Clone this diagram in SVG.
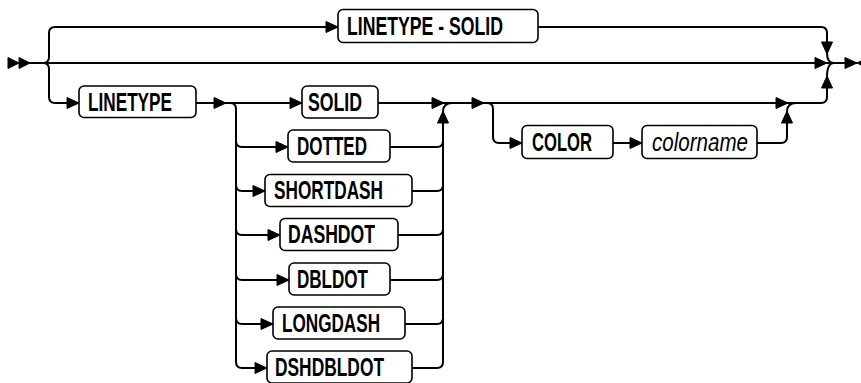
<svg xmlns="http://www.w3.org/2000/svg" width="861" height="383" viewBox="0 0 861 383">
<defs>
<style>
.ln{fill:none;stroke:#000;stroke-width:2}
.bx{fill:#fff;stroke:#000;stroke-width:1.6}
.ah{fill:#000;stroke:#000;stroke-width:1;stroke-linejoin:miter}
.t{font-family:"Liberation Sans Narrow","Arial Narrow","Liberation Sans",sans-serif;font-weight:bold;font-size:25px;fill:#000}
.ti{font-family:"Liberation Sans Narrow","Arial Narrow","Liberation Sans",sans-serif;font-style:italic;font-size:25px;fill:#000}
</style>
<marker id="ar" viewBox="0 0 13 12" refX="12.5" refY="6" markerWidth="13" markerHeight="12" markerUnits="userSpaceOnUse" orient="auto" overflow="visible"><path d="M0.5,0.5L12.5,6L0.5,11.5z" fill="#000" stroke="#000" stroke-width="1"/></marker>
</defs>
<g id="connectors">
<path class="ah" d="M8,57.5L19,63L8,68.5z M19,57.5L30,63L19,68.5z"/>
<path class="ln" d="M29,63H827" marker-end="url(#ar)"/>
<path class="ln" d="M43,63Q49,63 49,57V33Q49,27 55,27H338" marker-end="url(#ar)"/>
<path class="ln" d="M538,27H821Q827,27 827,33V54" marker-end="url(#ar)"/>
<path class="ln" d="M827,53Q827,63 834,63"/>
<path class="ln" d="M43,63Q49,63 49,69V97Q49,103 55,103H79" marker-end="url(#ar)"/>
<path class="ln" d="M196,103H226" marker-end="url(#ar)"/>
<path class="ln" d="M225,103H302" marker-end="url(#ar)"/>
<path class="ln" d="M225,103H230Q236,103 236,109V362Q236,368 242,368"/>
<path class="ln" d="M236,141Q236,147 242,147H288" marker-end="url(#ar)"/>
<path class="ln" d="M236,185Q236,191 242,191H265" marker-end="url(#ar)"/>
<path class="ln" d="M236,229Q236,235 242,235H280" marker-end="url(#ar)"/>
<path class="ln" d="M236,274Q236,280 242,280H289" marker-end="url(#ar)"/>
<path class="ln" d="M236,318Q236,324 242,324H273" marker-end="url(#ar)"/>
<path class="ln" d="M242,368H267" marker-end="url(#ar)"/>
<path class="ln" d="M378,103H444" marker-end="url(#ar)"/>
<path class="ln" d="M412,368H437Q443,368 443,362V111" marker-end="url(#ar)"/>
<path class="ln" d="M390,147H437Q443,147 443,141"/>
<path class="ln" d="M412,191H437Q443,191 443,185"/>
<path class="ln" d="M398,235H437Q443,235 443,229"/>
<path class="ln" d="M390,280H437Q443,280 443,274"/>
<path class="ln" d="M405,324H437Q443,324 443,318"/>
<path class="ln" d="M443,112Q443,103 452,103"/>
<path class="ln" d="M443,103H484" marker-end="url(#ar)"/>
<path class="ln" d="M483,103H788" marker-end="url(#ar)"/>
<path class="ln" d="M487,103Q493,103 493,109V137Q493,143 499,143H522" marker-end="url(#ar)"/>
<path class="ln" d="M613,143H642" marker-end="url(#ar)"/>
<path class="ln" d="M757,143H781Q787,143 787,137V111" marker-end="url(#ar)"/>
<path class="ln" d="M787,112Q787,103 796,103"/>
<path class="ln" d="M787,103H821Q827,103 827,97V76" marker-end="url(#ar)"/>
<path class="ln" d="M827,77Q827,63 834,63"/>
<path class="ln" d="M827,63H857" marker-end="url(#ar)"/>
<path class="ah" d="M857,63L868,57.5L868,68.5z"/>
</g>
<g id="n_linetype_solid"><rect class="bx" x="338" y="9.5" width="200" height="33" rx="5"/><text class="t" x="347" y="34.5" textLength="156" lengthAdjust="spacingAndGlyphs">LINETYPE - SOLID</text></g>
<g id="n_linetype"><rect class="bx" x="79" y="86" width="117" height="31.5" rx="5"/><text class="t" x="88" y="110.5" textLength="84" lengthAdjust="spacingAndGlyphs">LINETYPE</text></g>
<g id="n_solid"><rect class="bx" x="302" y="86" width="76" height="32" rx="5"/><text class="t" x="308" y="110.5" textLength="54" lengthAdjust="spacingAndGlyphs">SOLID</text></g>
<g id="n_dotted"><rect class="bx" x="288" y="130" width="102" height="32" rx="5"/><text class="t" x="297" y="154.5" textLength="70" lengthAdjust="spacingAndGlyphs">DOTTED</text></g>
<g id="n_shortdash"><rect class="bx" x="265" y="174.5" width="147" height="32" rx="5"/><text class="t" x="274" y="198.5" textLength="109" lengthAdjust="spacingAndGlyphs">SHORTDASH</text></g>
<g id="n_dashdot"><rect class="bx" x="280" y="218.5" width="118" height="32" rx="5"/><text class="t" x="288" y="242.5" textLength="87" lengthAdjust="spacingAndGlyphs">DASHDOT</text></g>
<g id="n_dbldot"><rect class="bx" x="289" y="263" width="101" height="32" rx="5"/><text class="t" x="297" y="287.5" textLength="71" lengthAdjust="spacingAndGlyphs">DBLDOT</text></g>
<g id="n_longdash"><rect class="bx" x="273" y="307" width="132" height="32" rx="5"/><text class="t" x="282" y="331.5" textLength="98" lengthAdjust="spacingAndGlyphs">LONGDASH</text></g>
<g id="n_dshdbldot"><rect class="bx" x="267" y="351" width="145" height="32" rx="5"/><text class="t" x="275" y="375.5" textLength="109" lengthAdjust="spacingAndGlyphs">DSHDBLDOT</text></g>
<g id="n_color"><rect class="bx" x="522" y="125.5" width="91" height="33" rx="5"/><text class="t" x="532" y="150.5" textLength="60" lengthAdjust="spacingAndGlyphs">COLOR</text></g>
<g id="n_colorname"><rect class="bx" x="642" y="125.5" width="115" height="33" rx="5"/><text class="ti" x="652" y="150.5" textLength="96" lengthAdjust="spacingAndGlyphs">colorname</text></g>
</svg>
